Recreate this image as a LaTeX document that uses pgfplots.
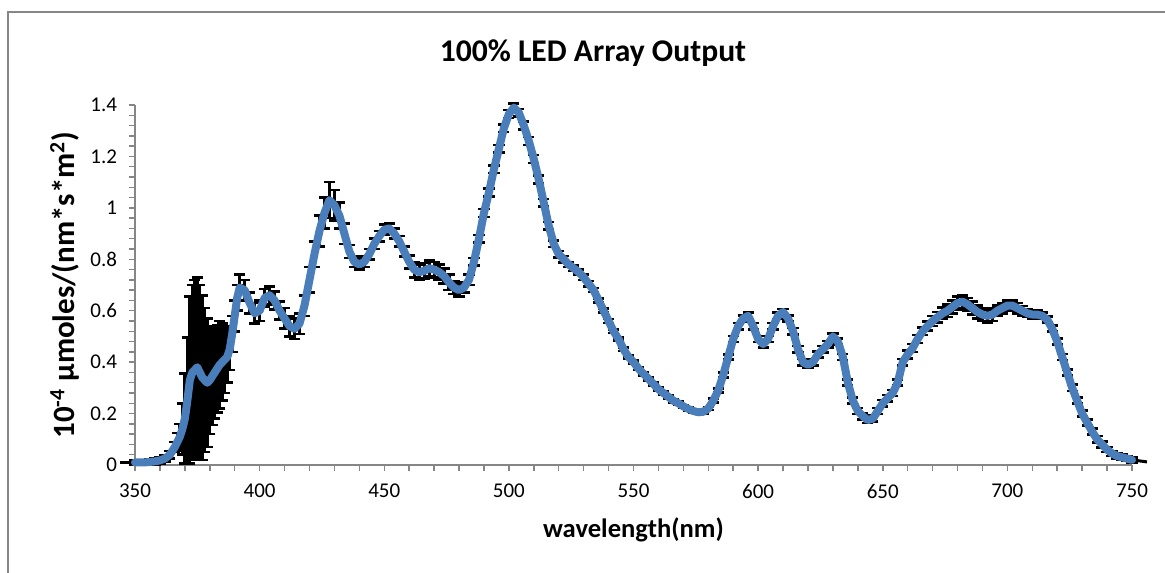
\documentclass[border=0pt]{standalone}
\usepackage{fontspec}
\setmainfont{Carlito}
\usepackage{pgfplots}
\pgfplotsset{compat=1.18}
\usepackage{pgfplotstable}

\definecolor{xlblue}{RGB}{74,126,187}
\definecolor{axgray}{RGB}{134,134,134}

% wavelength (nm), output, error
\pgfplotstableread{
x y e
350 0.010 0.010
352 0.010 0.010
354 0.010 0.010
356 0.012 0.012
358 0.014 0.012
360 0.018 0.012
362 0.025 0.012
364 0.040 0.015
366 0.070 0.020
367 0.090 0.035
368 0.110 0.050
369 0.140 0.100
370 0.180 0.175
371 0.250 0.245
372 0.330 0.325
373 0.360 0.340
374 0.370 0.350
375 0.380 0.350
376 0.360 0.340
377 0.340 0.320
378 0.330 0.280
379 0.320 0.250
380 0.330 0.210
381 0.345 0.190
382 0.360 0.180
383 0.375 0.170
384 0.390 0.170
385 0.400 0.150
386 0.410 0.130
387 0.420 0.100
388 0.450 0.080
389 0.510 0.070
390 0.580 0.060
391 0.650 0.050
392 0.690 0.050
394 0.680 0.040
396 0.630 0.040
398 0.590 0.040
400 0.600 0.040
402 0.650 0.035
404 0.660 0.035
406 0.640 0.035
408 0.600 0.035
410 0.570 0.040
412 0.540 0.040
414 0.530 0.040
416 0.550 0.040
418 0.620 0.040
420 0.720 0.050
422 0.820 0.050
424 0.910 0.060
426 0.980 0.060
428 1.030 0.070
430 1.010 0.060
432 0.970 0.050
434 0.900 0.040
436 0.830 0.025
438 0.790 0.020
440 0.780 0.020
442 0.790 0.020
444 0.820 0.020
446 0.860 0.020
448 0.890 0.020
450 0.915 0.020
452 0.920 0.020
454 0.900 0.020
456 0.870 0.020
458 0.830 0.020
460 0.790 0.025
462 0.760 0.030
464 0.750 0.030
466 0.755 0.030
468 0.765 0.030
470 0.760 0.030
472 0.750 0.030
474 0.735 0.030
476 0.710 0.030
478 0.690 0.025
480 0.680 0.025
482 0.690 0.020
484 0.720 0.020
486 0.790 0.015
488 0.880 0.015
490 0.980 0.015
492 1.060 0.015
494 1.150 0.015
496 1.230 0.015
498 1.310 0.015
500 1.365 0.015
502 1.390 0.015
504 1.370 0.015
506 1.320 0.015
508 1.260 0.015
510 1.190 0.015
512 1.110 0.015
514 1.020 0.015
516 0.930 0.015
518 0.860 0.012
520 0.820 0.012
522 0.800 0.012
524 0.780 0.010
526 0.765 0.010
528 0.750 0.010
530 0.730 0.010
532 0.705 0.010
534 0.680 0.008
536 0.640 0.008
538 0.600 0.008
540 0.560 0.008
542 0.520 0.006
544 0.490 0.006
546 0.450 0.006
548 0.420 0.006
550 0.400 0.006
552 0.375 0.006
554 0.355 0.006
556 0.335 0.006
558 0.315 0.006
560 0.295 0.006
562 0.280 0.006
564 0.265 0.006
566 0.250 0.006
568 0.240 0.006
570 0.228 0.006
572 0.218 0.006
574 0.210 0.006
576 0.205 0.006
578 0.207 0.006
580 0.220 0.006
582 0.250 0.008
584 0.290 0.008
586 0.350 0.010
588 0.420 0.010
590 0.490 0.012
592 0.540 0.012
594 0.570 0.012
596 0.580 0.012
598 0.540 0.012
600 0.490 0.012
602 0.470 0.012
604 0.490 0.012
606 0.540 0.012
608 0.580 0.012
610 0.595 0.012
612 0.570 0.012
614 0.520 0.012
616 0.450 0.012
618 0.400 0.012
620 0.390 0.012
622 0.400 0.012
624 0.430 0.012
626 0.450 0.012
628 0.470 0.012
630 0.500 0.012
632 0.480 0.012
634 0.420 0.012
636 0.320 0.012
638 0.250 0.012
640 0.210 0.012
642 0.190 0.012
644 0.175 0.012
646 0.180 0.012
648 0.210 0.012
650 0.240 0.012
652 0.260 0.012
654 0.280 0.012
656 0.320 0.012
658 0.400 0.012
660 0.430 0.015
662 0.455 0.015
664 0.490 0.015
666 0.520 0.015
668 0.540 0.018
670 0.560 0.020
672 0.575 0.020
674 0.590 0.022
676 0.600 0.025
678 0.615 0.025
680 0.630 0.025
682 0.635 0.025
684 0.625 0.025
686 0.610 0.025
688 0.595 0.025
690 0.585 0.025
692 0.580 0.025
694 0.585 0.025
696 0.600 0.020
698 0.610 0.020
700 0.620 0.020
702 0.620 0.020
704 0.610 0.020
706 0.600 0.018
708 0.590 0.015
710 0.585 0.015
712 0.585 0.015
714 0.580 0.012
716 0.565 0.012
718 0.530 0.012
720 0.480 0.012
722 0.420 0.012
724 0.360 0.012
726 0.300 0.012
728 0.250 0.012
730 0.200 0.012
732 0.165 0.012
734 0.130 0.012
736 0.100 0.012
738 0.080 0.012
740 0.060 0.010
742 0.045 0.010
744 0.035 0.010
746 0.030 0.010
748 0.025 0.010
750 0.020 0.010
}\ledtable

\begin{document}
\begin{tikzpicture}
\begin{axis}[
  scale only axis,
  width=498.5bp, height=180bp,
  xmin=350, xmax=750, ymin=0, ymax=1.4,
  axis lines*=left,
  axis line style={axgray, line width=0.75bp},
  xtick={350,400,450,500,550,600,650,700,750},
  ytick={0,0.2,0.4,0.6,0.8,1,1.2,1.4},
  minor x tick num=4, minor y tick num=4,
  tick align=outside,
  major tick length=3bp, minor tick length=3bp,
  tick style={axgray, line width=0.75bp},
  tick label style={font=\fontsize{10.5bp}{12bp}\selectfont, black},
  xticklabel style={yshift=-3bp},
  yticklabel style={xshift=-2.5bp},
  /pgf/number format/assume math mode=true,
  clip=false,
]
% error bars (black) under the series line
\addplot[black, line width=2bp, mark=none,
  error bars/.cd, y dir=both, y explicit, error mark=|,
  error bar style={black, line width=1.6bp},
  error mark options={black, line width=1.3bp, mark size=2.8bp}]
  table[x=x, y=y, y error=e] {\ledtable};
\addplot[black, line width=1.5bp] coordinates {(344,0.010)(350,0.010)};
\addplot[black, line width=1.5bp] coordinates {(750,0.020)(756,0.012)};
% series line
\addplot[xlblue, line width=4bp, line join=round, line cap=round, mark=none]
  table[x=x, y=y] {\ledtable};
\end{axis}
\pgfresetboundingbox
\path[use as bounding box] (-67.5bp,-54bp) rectangle (515bp,232.5bp);
\draw[axgray, line width=0.75bp] (-63.5bp,-54bp) -- (-63.5bp,226.5bp) -- (515bp,226.5bp);
\node[font=\fontsize{15.8bp}{18bp}\selectfont\bfseries] at (229bp,206bp) {100\% LED Array Output};
\node[font=\fontsize{13.3bp}{15bp}\selectfont\bfseries] at (249.25bp,-32.5bp) {wavelength(nm)};
\node[rotate=90, font=\fontsize{15.5bp}{18bp}\selectfont\bfseries] at (-35bp,90bp)
  {10\textsuperscript{-4} µmoles/(nm*s*m\textsuperscript{2})};
\end{tikzpicture}
\end{document}
